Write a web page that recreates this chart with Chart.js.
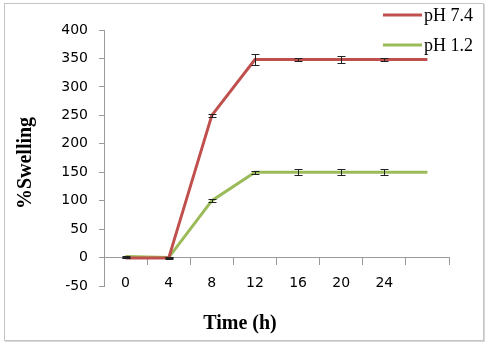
<!DOCTYPE html>
<html><head><meta charset="utf-8">
<script src="https://cdn.jsdelivr.net/npm/chart.js@4"></script>
<style>html,body{margin:0;padding:0;background:#fff}</style>
</head><body>
<canvas id="c" width="488" height="343" style="display:block;width:488px;height:343px"></canvas>
<script>
// ---- data ----
const timeLabels = ['0', '4', '8', '12', '16', '20', '24', ''];
const ph74 = [-1, -1, 250, 348, 348, 348, 348, 348];
const ph74Err = [0.5, 2, 3, 10, 2, 6, 2, 0];
const ph12 = [2, 0, 100, 150, 150, 150, 150, 150];
const ph12Err = [0.5, 1, 3, 3, 5, 5, 5, 0];
const yMin = -50, yMax = 400, yStep = 50;
const xTitle = 'Time (h)';
const yTitle = '%Swelling';

const RED = '#C0504D', GREEN = '#9BBB59', AXIS = '#9a9a9a';

const bgPlugin = {
  id: 'bg',
  beforeDraw(chart) {
    const ctx = chart.ctx;
    ctx.save();
    ctx.fillStyle = '#fff';
    ctx.fillRect(0, 0, chart.width, chart.height);
    ctx.strokeStyle = '#c4c4c4';
    ctx.lineWidth = 1;
    ctx.strokeRect(4.5, 3.5, 479, 337);
    ctx.beginPath();
    ctx.moveTo(484.5, 4); ctx.lineTo(484.5, 342);
    ctx.moveTo(5, 341.5); ctx.lineTo(485, 341.5);
    ctx.strokeStyle = '#d8d8d8';
    ctx.stroke();
    ctx.restore();
  }
};

const errPlugin = {
  id: 'errBars',
  afterDatasetsDraw(chart) {
    const ctx = chart.ctx, x = chart.scales.x, y = chart.scales.y;
    ctx.save();
    ctx.strokeStyle = '#222';
    ctx.lineWidth = 1;
    chart.data.datasets.forEach(ds => {
      ds.data.forEach((v, i) => {
        const e = ds.errors[i];
        if (!e) return;
        const px = Math.round(x.getPixelForValue(i)) + 0.5;
        const yt = Math.round(y.getPixelForValue(v + e)) + 0.5;
        const yb = Math.round(y.getPixelForValue(v - e)) + 0.5;
        ctx.beginPath();
        ctx.moveTo(px, yt); ctx.lineTo(px, yb);
        ctx.moveTo(px - 4, yt); ctx.lineTo(px + 4, yt);
        ctx.moveTo(px - 4, yb); ctx.lineTo(px + 4, yb);
        ctx.stroke();
      });
    });
    ctx.restore();
  }
};

const textPlugin = {
  id: 'texts',
  afterDraw(chart) {
    const ctx = chart.ctx;
    ctx.save();
    // legend
    chart.data.datasets.forEach((ds, i) => {
      const ly = 15 + i * 30;
      ctx.strokeStyle = ds.borderColor;
      ctx.lineWidth = 3;
      ctx.beginPath();
      ctx.moveTo(383, ly); ctx.lineTo(422, ly);
      ctx.stroke();
      ctx.fillStyle = '#000';
      ctx.font = '18px "Liberation Serif"';
      ctx.textAlign = 'left';
      ctx.textBaseline = 'alphabetic';
      ctx.fillText(ds.label, 424, ly + 6);
    });
    // axis titles
    ctx.font = 'bold 20px "Liberation Serif"';
    ctx.fillStyle = '#000';
    ctx.textAlign = 'center';
    ctx.textBaseline = 'alphabetic';
    ctx.fillText(xTitle, 240, 329);
    ctx.translate(31, 163);
    ctx.rotate(-Math.PI / 2);
    ctx.fillText(yTitle, 0, 0);
    ctx.restore();
  }
};

new Chart(document.getElementById('c'), {
  type: 'line',
  data: {
    labels: timeLabels,
    datasets: [
      { label: 'pH 7.4', data: ph74, errors: ph74Err, borderColor: RED, backgroundColor: RED,
        borderWidth: 3, pointRadius: 0, tension: 0 },
      { label: 'pH 1.2', data: ph12, errors: ph12Err, borderColor: GREEN, backgroundColor: GREEN,
        borderWidth: 3, pointRadius: 0, tension: 0 }
    ]
  },
  options: {
    responsive: false,
    animation: false,
    devicePixelRatio: 1,
    layout: { padding: { left: 0, right: 39, top: 30, bottom: 57 } },
    plugins: { legend: { display: false }, tooltip: { enabled: false } },
    scales: {
      x: {
        type: 'category',
        position: { y: 0 },
        offset: true,
        grid: { display: true, drawOnChartArea: false, drawTicks: true, tickLength: 7, offset: true, color: AXIS },
        border: { display: true, color: AXIS, width: 1 },
        ticks: { color: '#000', font: { family: 'DejaVu Sans', size: 14 }, padding: 10,
                 maxRotation: 0, autoSkip: false }
      },
      y: {
        min: yMin, max: yMax,
        afterFit(scale) { scale.width = 104; },
        grid: { display: true, drawOnChartArea: false, drawTicks: true, tickLength: 5, color: AXIS },
        border: { display: true, color: AXIS, width: 1 },
        ticks: { stepSize: yStep, color: '#000', font: { family: 'DejaVu Sans', size: 14 }, padding: 11 }
      }
    }
  },
  plugins: [bgPlugin, errPlugin, textPlugin]
});
</script>
</body></html>
